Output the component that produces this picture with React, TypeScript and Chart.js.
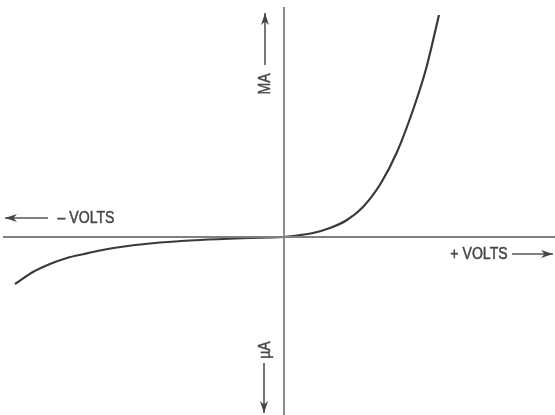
import React, { useEffect, useRef } from "react";
import { Chart, registerables } from "chart.js";

Chart.register(...registerables);

// Forward characteristic (mA region), arbitrary units: x = volts, y = current
const forwardX = [0, 13, 29, 46, 63, 79, 97, 113, 129, 142, 155];
const forwardY = [0, 1.5, 4, 9, 17, 30, 54, 85, 127, 168, 222];

// Reverse characteristic (µA region)
const reverseX = [-269, -251, -234, -217, -200, -184, -167, -134, -84, -34, 0];
const reverseY = [-47, -35, -27, -21, -17, -13.5, -10.5, -6.5, -3, -1, 0];

// Axis extents
const xAxisExtent = [-281, 271];
const yAxisExtent = [-178, 230];

// Labels
const labelNegVolts = "– VOLTS";
const labelPosVolts = "+ VOLTS";
const labelMA = "MA";
const labelUA = "µA";

const X_MIN = -284;
const X_MAX = 271;
const Y_MIN = -178;
const Y_MAX = 237;

function arrow(ctx: CanvasRenderingContext2D, x1: number, y1: number, x2: number, y2: number) {
  ctx.beginPath();
  ctx.moveTo(x1, y1);
  ctx.lineTo(x2, y2);
  ctx.stroke();
  const ang = Math.atan2(y2 - y1, x2 - x1);
  const len = 12;
  const w = 4;
  ctx.beginPath();
  ctx.moveTo(x2, y2);
  ctx.lineTo(x2 - len * Math.cos(ang) - w * Math.sin(ang), y2 - len * Math.sin(ang) + w * Math.cos(ang));
  ctx.lineTo(x2 - len * 0.7 * Math.cos(ang), y2 - len * 0.7 * Math.sin(ang));
  ctx.lineTo(x2 - len * Math.cos(ang) + w * Math.sin(ang), y2 - len * Math.sin(ang) - w * Math.cos(ang));
  ctx.closePath();
  ctx.fill();
}

function drawText(ctx: CanvasRenderingContext2D, text: string, x: number, y: number, rot: number) {
  ctx.save();
  ctx.translate(x, y);
  ctx.rotate(rot);
  ctx.scale(0.88, 1);
  ctx.textAlign = "center";
  ctx.textBaseline = "middle";
  ctx.lineWidth = 0.5;
  ctx.strokeText(text, 0, 0);
  ctx.fillText(text, 0, 0);
  ctx.restore();
}

const labelsPlugin = {
  id: "diodeLabels",
  afterDatasetsDraw(chart: any) {
    const ctx: CanvasRenderingContext2D = chart.ctx;
    const xs = chart.scales.x;
    const ys = chart.scales.y;
    const px = (v: number) => xs.getPixelForValue(v);
    const py = (v: number) => ys.getPixelForValue(v);
    ctx.save();
    ctx.strokeStyle = "#555";
    ctx.fillStyle = "#444";
    ctx.lineWidth = 1.6;
    ctx.font = "16px 'Liberation Sans', Arial, sans-serif";
    // – VOLTS (left)
    arrow(ctx, px(-236), py(19), px(-279), py(19));
    drawText(ctx, labelNegVolts, px(-198), py(18), 0);
    // + VOLTS (right)
    ctx.lineWidth = 1.6;
    drawText(ctx, labelPosVolts, px(195), py(-18), 0);
    arrow(ctx, px(228), py(-17), px(269), py(-17));
    // MA
    drawText(ctx, labelMA, px(-18), py(153), -Math.PI / 2);
    arrow(ctx, px(-19), py(172), px(-19), py(224));
    // µA
    drawText(ctx, labelUA, px(-18), py(-113), -Math.PI / 2);
    arrow(ctx, px(-20), py(-126), px(-20), py(-176));
    ctx.restore();
  },
};

export default function App() {
  const ref = useRef<HTMLCanvasElement>(null);
  useEffect(() => {
    if (!ref.current) return;
    const chart = new Chart(ref.current, {
      type: "line",
      data: {
        datasets: [
          {
            label: "x-axis",
            data: xAxisExtent.map((x) => ({ x, y: 0 })),
            borderColor: "#808080",
            borderWidth: 1.8,
            pointRadius: 0,
          },
          {
            label: "y-axis",
            data: yAxisExtent.map((y) => ({ x: 0, y })),
            borderColor: "#808080",
            borderWidth: 1.8,
            pointRadius: 0,
          },
          {
            label: "reverse",
            data: reverseX.map((x, i) => ({ x, y: reverseY[i] })),
            borderColor: "#3a3a3a",
            borderWidth: 2.2,
            pointRadius: 0,
            cubicInterpolationMode: "monotone",
          },
          {
            label: "forward",
            data: forwardX.map((x, i) => ({ x, y: forwardY[i] })),
            borderColor: "#3a3a3a",
            borderWidth: 2.2,
            pointRadius: 0,
            cubicInterpolationMode: "monotone",
          },
        ],
      },
      options: {
        animation: false,
        responsive: false,
        maintainAspectRatio: false,
        layout: { padding: 0 },
        plugins: { legend: { display: false }, tooltip: { enabled: false } },
        scales: {
          x: { type: "linear", min: X_MIN, max: X_MAX, display: false },
          y: { type: "linear", min: Y_MIN, max: Y_MAX, display: false },
        },
      },
      plugins: [labelsPlugin],
    });
    return () => chart.destroy();
  }, []);
  return (
    <div style={{ position: "absolute", left: 0, top: 0, width: 555, height: 415, background: "#fff" }}>
      <canvas ref={ref} width={555} height={415} />
    </div>
  );
}
